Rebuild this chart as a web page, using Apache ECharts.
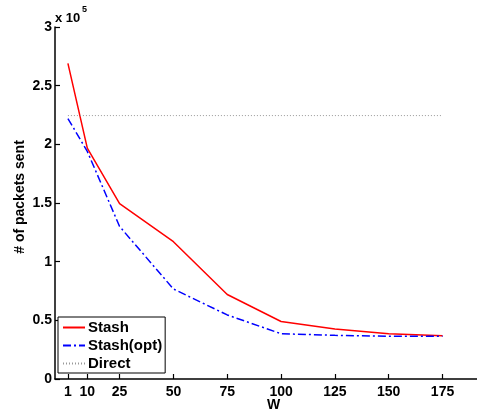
<!DOCTYPE html>
<html>
<head>
<meta charset="utf-8">
<script src="https://cdn.jsdelivr.net/npm/echarts@6/dist/echarts.min.js"></script>
<style>html,body{margin:0;padding:0;background:#fff}#c{width:477px;height:415px}</style>
</head>
<body>
<div id="c"></div>
<script>
var wValues = [1, 10, 25, 50, 75, 100, 125, 150, 175];
var xTicks = [1, 10, 25, 50, 75, 100, 125, 150, 175];
var stash = [269000, 196700, 149500, 117000, 72000, 49000, 42600, 38600, 36900];
var stashOpt = [222000, 194000, 130000, 76700, 54600, 38600, 37200, 36400, 36400];
var direct = [224500, 224500, 224500, 224500, 224500, 224500, 224500, 224500, 224500];
var seriesNames = ['Stash', 'Stash(opt)', 'Direct'];

function pairs(xs, ys) { return xs.map(function (x, i) { return [x, ys[i]]; }); }

var font = 'Liberation Sans, Arial, Helvetica, sans-serif';
var chart = echarts.init(document.getElementById('c'), null, {renderer: 'canvas'});
chart.setOption({
  animation: false,
  backgroundColor: '#fff',
  textStyle: {fontFamily: font},
  grid: {left: 55, top: 27, right: 0, bottom: 36, containLabel: false},
  xAxis: {
    type: 'value', min: -5, max: 191,
    splitLine: {show: false},
    axisLine: {show: true, onZero: false, lineStyle: {color: '#000', width: 1.5}},
    axisTick: {show: true, inside: true, length: 5, customValues: xTicks, lineStyle: {color: '#000', width: 1.2}},
    axisLabel: {customValues: xTicks, color: '#000', fontWeight: 'bold', fontSize: 14, fontFamily: font, margin: 6}
  },
  yAxis: {
    type: 'value', min: 0, max: 300000, interval: 50000,
    splitLine: {show: false},
    axisLine: {show: true, onZero: false, lineStyle: {color: '#000', width: 1.5}},
    axisTick: {show: true, inside: true, length: 5, lineStyle: {color: '#000', width: 1.2}},
    axisLabel: {color: '#000', fontWeight: 'bold', fontSize: 14, fontFamily: font, margin: 3,
      formatter: function (v) { return String(Math.round(v / 1e4) / 10); }}
  },
  legend: {
    orient: 'vertical', left: 58, top: 317,
    data: seriesNames,
    backgroundColor: '#fff', borderColor: '#000', borderWidth: 1,
    padding: [3, 3, 2, 4], itemGap: 3, itemWidth: 22, itemHeight: 14,
    itemStyle: {opacity: 0},
    textStyle: {color: '#000', fontWeight: 'bold', fontSize: 15, fontFamily: font, padding: [0, 0, 0, -2]}
  },
  graphic: [
    {type: 'text', left: 55, top: 12, style: {text: 'x 10', font: 'bold 13px ' + font, fill: '#000'}},
    {type: 'text', left: 82, top: 5, style: {text: '5', font: 'bold 9px ' + font, fill: '#000'}},
    {type: 'text', left: 267, top: 398, style: {text: 'W', font: 'bold 14px ' + font, fill: '#000'}},
    {type: 'text', x: 20, y: 197, rotation: Math.PI / 2,
      style: {text: '# of packets sent', font: 'bold 14px ' + font, fill: '#000', align: 'center', verticalAlign: 'middle'}}
  ],
  series: [
    {name: seriesNames[0], type: 'line', symbol: 'none', data: pairs(wValues, stash),
      lineStyle: {color: '#ff0000', width: 1.5}, itemStyle: {color: '#ff0000'}},
    {name: seriesNames[1], type: 'line', symbol: 'none', data: pairs(wValues, stashOpt),
      lineStyle: {color: '#0000ff', width: 1.5, type: [8, 3, 2, 3]}, itemStyle: {color: '#0000ff'}},
    {name: seriesNames[2], type: 'line', symbol: 'none', data: pairs(wValues, direct),
      lineStyle: {color: '#999999', width: 1, type: [1, 2]}, itemStyle: {color: '#999999'}}
  ]
});
</script>
</body>
</html>
